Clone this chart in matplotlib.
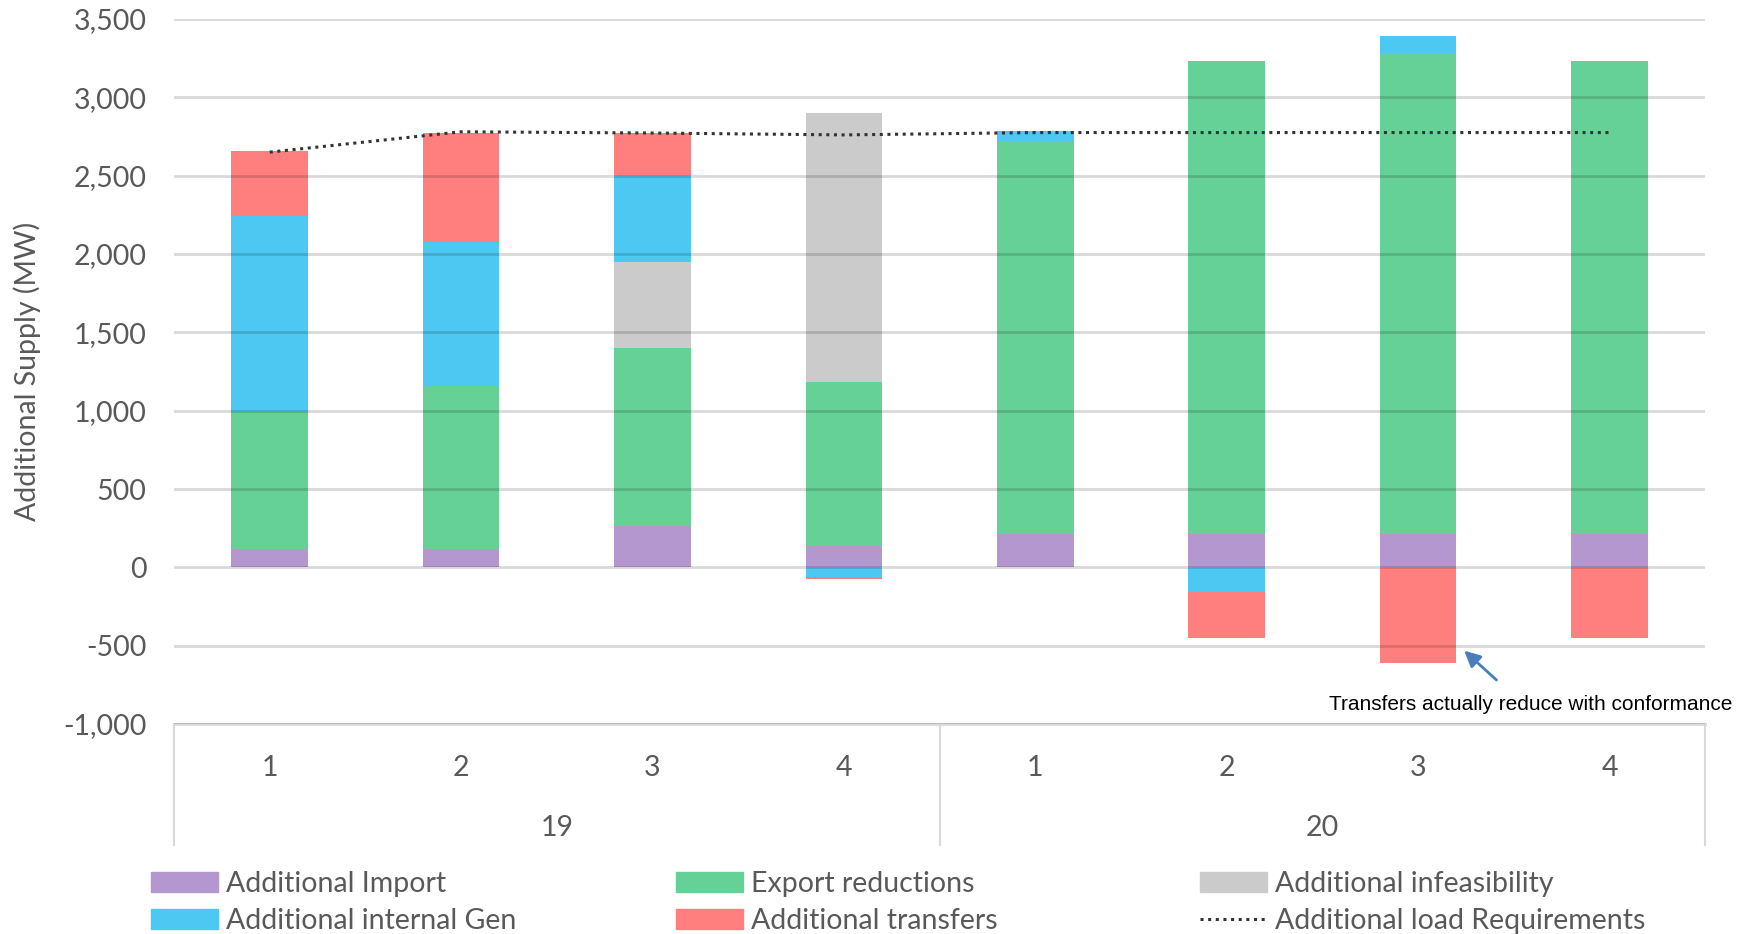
import matplotlib.pyplot as plt
import matplotlib.ticker as mticker
from matplotlib.patches import Patch
from matplotlib.lines import Line2D
import numpy as np

plt.rcParams['font.family'] = ['Lato', 'DejaVu Sans']

# quarters and years
quarters = ['1', '2', '3', '4', '1', '2', '3', '4']
years = ['19', '20']

# series values (MW)
add_import = [120, 120, 265, 135, 210, 210, 210, 210]
export_red = [870, 1035, 1135, 1050, 2510, 3020, 3075, 3020]
infeas = [0, 0, 550, 1715, 0, 0, 0, 0]
internal_gen = [1255, 920, 555, -60, 65, -160, 105, 0]
transfers = [415, 700, 270, -15, 0, -290, -610, -450]
load_req = [2650, 2780, 2772, 2760, 2775, 2775, 2775, 2775]

series = [
    ('Additional Import', add_import, '#b497cf'),
    ('Export reductions', export_red, '#66d196'),
    ('Additional infeasibility', infeas, '#cbcbcb'),
    ('Additional internal Gen', internal_gen, '#4cc8f2'),
    ('Additional transfers', transfers, '#ff7f7f'),
]

grey_txt = '#595959'
fs = 20.5

fig = plt.figure(figsize=(17.58, 9.34), dpi=100)
ax = fig.add_axes([0.099, 0.2248, 0.871, 0.7549])

x = np.arange(len(quarters))
pos_bottom = np.zeros(len(x))
neg_bottom = np.zeros(len(x))
for name, vals, col in series:
    v = np.array(vals, dtype=float)
    bottom = np.where(v >= 0, pos_bottom, neg_bottom)
    ax.bar(x, v, 0.4, bottom=bottom, color=col, zorder=1)
    pos_bottom += np.where(v >= 0, v, 0)
    neg_bottom += np.where(v < 0, v, 0)

ax.plot(x, load_req, linestyle=(0, (1, 1.5)), color='#333333', lw=2.2, zorder=3)

ax.set_xlim(-0.5, 7.5)
ax.set_ylim(-1000, 3500)
ax.set_yticks(np.arange(-1000, 3501, 500))
ax.yaxis.set_major_formatter(mticker.FuncFormatter(lambda v, p: '{:,.0f}'.format(v)))
ax.grid(axis='y', color='black', alpha=0.15, lw=2, zorder=2)
ax.set_axisbelow(False)
for s in ['top', 'right', 'left']:
    ax.spines[s].set_visible(False)
ax.spines['bottom'].set_color('#d9d9d9')
ax.spines['bottom'].set_linewidth(2)
ax.tick_params(axis='y', length=0, pad=20, labelsize=fs, labelcolor=grey_txt)
ax.set_xticks([])
ax.set_ylabel('Additional Supply (MW)', fontsize=fs, color=grey_txt, labelpad=16)

# two-level category axis
for i, q in enumerate(quarters):
    ax.annotate(q, xy=(i, 0), xycoords=('data', 'axes fraction'), xytext=(0, -32),
                textcoords='offset points', ha='center', va='center', fontsize=fs, color=grey_txt)
for j, yr in enumerate(years):
    ax.annotate(yr, xy=(1.5 + 4 * j, 0), xycoords=('data', 'axes fraction'), xytext=(0, -75),
                textcoords='offset points', ha='center', va='center', fontsize=fs, color=grey_txt)
for xs in [-0.5, 3.5, 7.5]:
    ax.plot([xs, xs], [0, -0.1716], transform=ax.get_xaxis_transform(), color='#d9d9d9',
            lw=1.5, clip_on=False)

# annotation
ax.annotate('', xy=(6.23, -520), xytext=(6.42, -731),
            arrowprops=dict(arrowstyle='-|>', color='#4a7ebb', lw=2, mutation_scale=24))
ax.text(6.59, -877, 'Transfers actually reduce with conformance', ha='center', va='center',
        fontsize=15, family='Liberation Sans', color='black')

# legend in three columns
handles = [Patch(color=c) for _, _, c in series]
handles.append(Line2D([0], [0], linestyle=(0, (1, 1.5)), color='#333333', lw=2.2))
labels = [n for n, _, _ in series] + ['Additional load Requirements']
cols = [(0, 3), (1, 4), (2, 5)]
col_x = [151, 676, 1200]
for (a, b), cx in zip(cols, col_x):
    fig.legend([handles[a], handles[b]], [labels[a], labels[b]], loc='upper left',
               bbox_to_anchor=(cx / 1758, 1 - 871 / 934), frameon=False, fontsize=fs,
               labelcolor=grey_txt, handlelength=2.35, handletextpad=0.3,
               borderpad=0, borderaxespad=0, labelspacing=0.4)

fig.savefig('out.png', dpi=100)
